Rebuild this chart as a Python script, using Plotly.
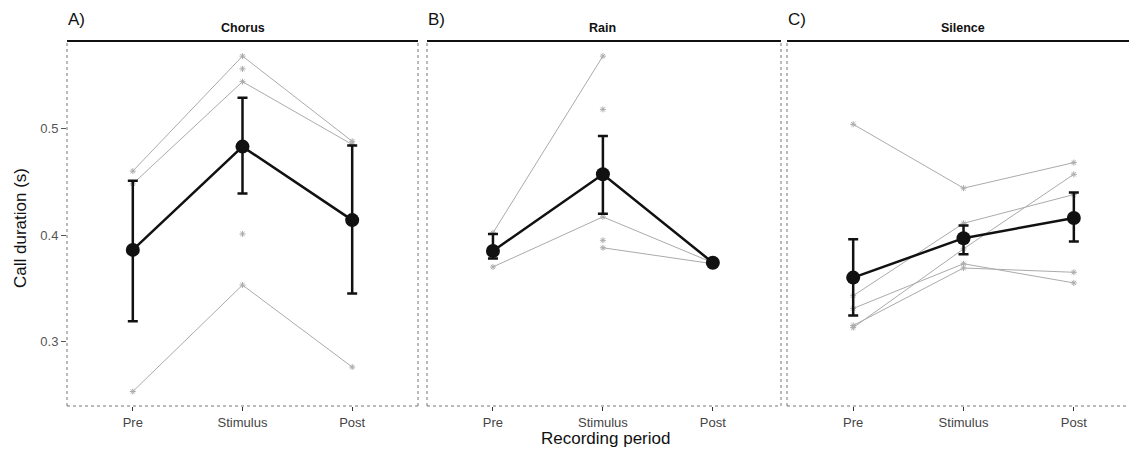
import plotly.graph_objects as go

W, H = 1129, 451

periods = ["Pre", "Stimulus", "Post"]
panels = ["Chorus", "Rain", "Silence"]
panel_tags = ["A)", "B)", "C)"]

# individual trajectories [Pre, Stimulus, Post]
chorus_ind = [[0.460, 0.568, 0.488],
              [0.448, 0.544, 0.485],
              [0.253, 0.353, 0.276],
              [None, 0.556, None],
              [None, 0.401, None]]
rain_ind = [[0.402, 0.568, None],
            [0.370, 0.417, 0.374],
            [None, 0.388, 0.373],
            [None, 0.518, None],
            [None, 0.395, None]]
silence_ind = [[0.504, 0.444, 0.468],
               [0.343, 0.411, 0.438],
               [0.313, 0.387, 0.457],
               [0.331, 0.373, 0.355],
               [0.315, 0.369, 0.365]]

# group means and error-bar limits
chorus_mean = [0.386, 0.483, 0.414]
chorus_lo = [0.319, 0.439, 0.345]
chorus_hi = [0.451, 0.529, 0.484]
rain_mean = [0.385, 0.457, 0.374]
rain_lo = [0.378, 0.420, 0.374]
rain_hi = [0.401, 0.493, 0.374]
silence_mean = [0.360, 0.397, 0.416]
silence_lo = [0.3245, 0.382, 0.394]
silence_hi = [0.396, 0.409, 0.440]

y_ticks = [0.3, 0.4, 0.5]

ind_sets = [chorus_ind, rain_ind, silence_ind]
means = [chorus_mean, rain_mean, silence_mean]
los = [chorus_lo, rain_lo, silence_lo]
his = [chorus_hi, rain_hi, silence_hi]

# layout in pixels
px_x = [(67, 418), (427, 781), (787, 1129)]
x_ranges = [[-0.6, 2.6], [-0.6, 2.62], [-0.6, 2.5]]
top_px, bot_px = 41, 406
y_range = [0.2394, 0.5822]

FONT = "Liberation Sans, Arial, sans-serif"

fig = go.Figure()
layout = dict(
    width=W, height=H, margin=dict(l=0, r=0, t=0, b=0),
    paper_bgcolor="white", plot_bgcolor="white", showlegend=False,
    font=dict(family=FONT, color="#333"),
)
shapes = []
annotations = []

for i in range(3):
    xa = "x" if i == 0 else f"x{i+1}"
    ya = "y" if i == 0 else f"y{i+1}"
    xk = "xaxis" if i == 0 else f"xaxis{i+1}"
    yk = "yaxis" if i == 0 else f"yaxis{i+1}"
    x0p, x1p = px_x[i]
    layout[xk] = dict(
        domain=[x0p / W, x1p / W], range=x_ranges[i], type="category",
        categoryorder="array", categoryarray=periods,
        showgrid=False, zeroline=False, showline=False,
        ticks="outside", ticklen=4, tickwidth=1, tickcolor="#333",
        tickfont=dict(size=13, color="#444", family=FONT), anchor=ya,
        fixedrange=True,
    )
    layout[yk] = dict(
        domain=[1 - bot_px / H, 1 - top_px / H], range=y_range,
        showgrid=False, zeroline=False, showline=False,
        tickvals=y_ticks, ticktext=[f"{v:.1f}" for v in y_ticks],
        ticks="outside" if i == 0 else "", ticklen=5, tickcolor="#555",
        showticklabels=(i == 0),
        tickfont=dict(size=13, color="#555", family=FONT), anchor=xa,
        fixedrange=True,
    )
    # individuals
    for ind in ind_sets[i]:
        fig.add_trace(go.Scatter(
            x=periods, y=ind, xaxis=xa, yaxis=ya, mode="lines+markers",
            line=dict(color="#ababab", width=1), connectgaps=False,
            marker=dict(symbol="asterisk-open", size=5,
                        line=dict(color="#8a8a8a", width=1)),
            hoverinfo="skip",
        ))
    m = means[i]
    fig.add_trace(go.Scatter(
        x=periods, y=m, xaxis=xa, yaxis=ya, mode="lines+markers",
        line=dict(color="#111", width=2.5),
        marker=dict(symbol="circle", size=14, color="#111"),
        error_y=dict(type="data", symmetric=False,
                     array=[h - v for h, v in zip(his[i], m)],
                     arrayminus=[v - l for v, l in zip(m, los[i])],
                     color="#111", thickness=2.5, width=5),
    ))
    # borders
    xl, xr = x0p / W, x1p / W
    yt, yb = 1 - top_px / H, 1 - bot_px / H
    shapes.append(dict(type="line", xref="paper", yref="paper", x0=xl, x1=xr, y0=yt, y1=yt,
                       line=dict(color="#111", width=2)))
    shapes.append(dict(type="line", xref="paper", yref="paper", x0=xl, x1=xr, y0=yb, y1=yb,
                       line=dict(color="#777", width=1, dash="dot")))
    shapes.append(dict(type="line", xref="paper", yref="paper", x0=xl, x1=xl, y0=yb, y1=yt,
                       line=dict(color="#777", width=1, dash="dot")))
    if i < 2:
        shapes.append(dict(type="line", xref="paper", yref="paper", x0=xr, x1=xr, y0=yb, y1=yt,
                           line=dict(color="#777", width=1, dash="dot")))
    # panel title
    annotations.append(dict(text=f"<b>{panels[i]}</b>", xref="paper", yref="paper",
                            x=(x0p + (x0p + 351)) / 2 / W, y=1 - 28 / H, showarrow=False,
                            font=dict(size=12.5, color="#111", family=FONT),
                            xanchor="center", yanchor="middle"))
    annotations.append(dict(text=panel_tags[i], xref="paper", yref="paper",
                            x=(x0p - 1) / W, y=1 - 20 / H, showarrow=False,
                            font=dict(size=17, color="#111", family=FONT),
                            xanchor="left", yanchor="middle"))

annotations.append(dict(text="Call duration (s)", xref="paper", yref="paper",
                        x=21 / W, y=1 - 228 / H, showarrow=False, textangle=-90,
                        font=dict(size=17, color="#111", family=FONT),
                        xanchor="center", yanchor="middle"))
annotations.append(dict(text="Recording period", xref="paper", yref="paper",
                        x=605 / W, y=1 - 438 / H, showarrow=False,
                        font=dict(size=17, color="#111", family=FONT),
                        xanchor="center", yanchor="middle"))

layout["shapes"] = shapes
layout["annotations"] = annotations
fig.update_layout(**layout)
fig.write_html("out.html")
